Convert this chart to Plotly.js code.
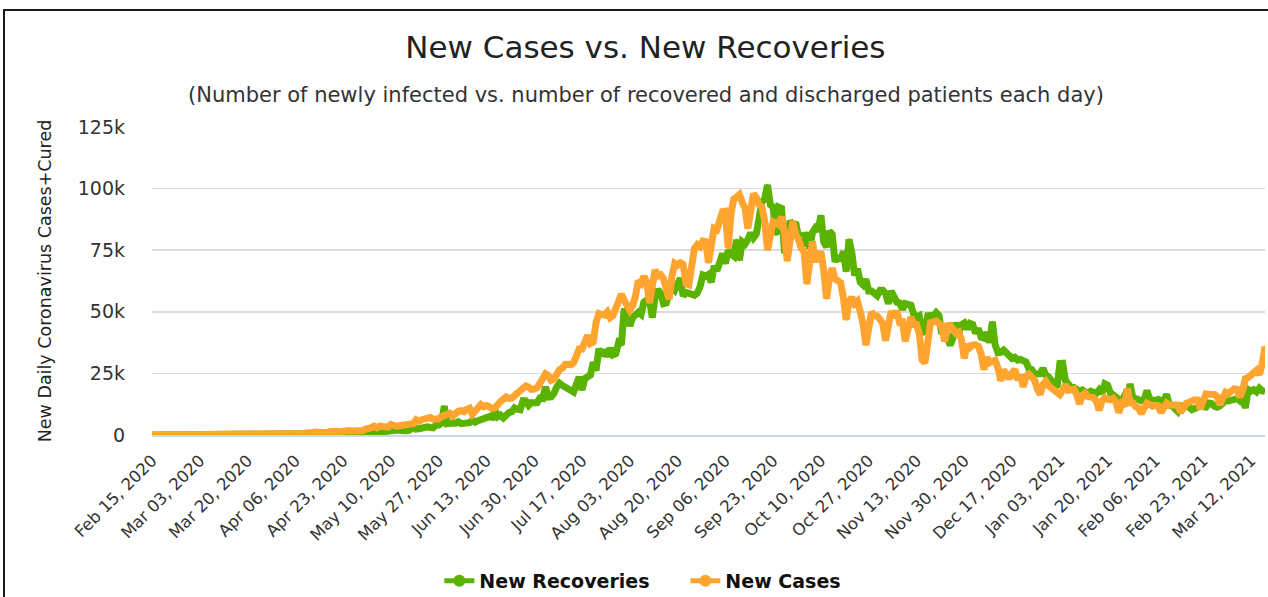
<!DOCTYPE html>
<html><head><meta charset="utf-8">
<script src="https://cdn.plot.ly/plotly-3.0.1.min.js"></script>
<style>
html,body{margin:0;padding:0;background:#fff;width:1268px;height:597px;overflow:hidden}
#chart{position:absolute;left:0;top:0;width:1268px;height:597px}
#frame{position:absolute;left:3px;top:9px;width:1290px;height:620px;border-left:2px solid #1a1a1a;border-top:2px solid #1a1a1a;pointer-events:none}
</style></head>
<body><div id="chart"></div><div id="frame"></div>
<script>
// Daily values, first day = Feb 15, 2020 ; last day = Mar 17, 2021
const startDate = '2020-02-15';
const endDate = '2021-03-17';

const casesFeb20 = [0,0,0,0,0,0,0,0,0,0,0,0,0,0,0];
const casesMar20 = [0,2,1,22,2,1,3,5,9,15,8,11,8,10,3,15,18,19,26,50,84,69,102,64,121,75,149,160,106,227,146];
const casesApr20 = [601,545,703,525,505,704,508,485,591,896,768,918,1248,1034,835,1108,922,1371,1580,1239,1537,1292,1667,1408,1835,1607,1568,1902,1705,1801];
const casesMay20 = [2396,2564,2952,3656,2971,3602,3344,3339,3175,4311,3592,3562,3726,3991,3808,4794,5049,4630,6147,5553,6198,6568,6629,7111,6414,6382,6566,7468,7964,8336,8782];
const casesJun20 = [7723,8821,9633,9889,9471,10438,10864,8442,9987,10956,12375,11458,11929,11502,10667,10974,12881,13586,14516,15413,14821,14933,15968,16922,17296,18552,19906,19459,18522,18653];
const casesJul20 = [19148,20903,22771,24850,24248,22252,22752,24879,26506,27114,28637,28701,28498,29429,32695,34956,34884,38902,40425,37148,37724,45720,49310,48916,48661,49931,47704,48513,52123,55079,57118];
const casesAug20 = [54735,52972,50629,52509,56282,62538,61537,64399,62064,53601,60963,66999,64553,65002,63490,57981,55079,64531,69652,68898,69878,69239,61408,60975,67151,75760,77266,76472,78761,78512,69921];
const casesSep20 = [78357,83883,83341,86432,90632,90802,75809,89706,95735,96551,97570,94372,92071,83809,90123,97894,96424,93337,92605,86961,75083,83347,86508,86052,85362,88600,82170,70589,80472,86821];
const casesOct20 = [81484,79476,75829,74442,61267,72049,78524,70496,73272,74383,66732,55342,63509,67708,63371,62212,61871,55722,46790,54044,55839,53370,54366,50129,45148,36470,43893,49881,48648,48268,46963];
const casesNov20 = [45231,38310,46253,50210,47638,50357,45674,45903,38073,44281,47905,44879,44878,41100,30548,29163,38617,45576,45882,46232,45209,44059,37975,44376,44489,43082,41322,41810,38772,31118];
const casesDec20 = [36604,35551,36595,36652,36011,32981,26567,31521,29398,30006,30254,27071,22065,26382,24010,22890,25152,26624,22273,24337,19556,23950,24712,23067,22272,18732,16432,20550,21821,20035,19078];
const casesJan21 = [18177,16504,16375,18088,20346,18139,18222,18645,16311,12584,15968,16946,15590,15158,15144,13788,10064,13823,15223,14545,14256,14849,13203,9102,12689,11666,18855,13083,13052,11427,11039];
const casesFeb21 = [8635,11039,12899,12408,11713,12059,11831,9110,11067,12923,12143,12194,11649,12194,9121,11610,12881,13193,13993,14264,14199,10584,13742,16738,16577,16752,16488,15510];
const casesMar21 = [12286,14989,17407,16838,18327,18711,18599,15388,17921,22854,23285,24882,25320,26291,24492,28903,35871];

const recFeb20 = [0,0,0,0,0,0,0,0,0,0,0,0,0,0,0];
const recMar20 = [0,0,0,0,0,0,0,0,0,0,0,4,0,6,0,1,1,1,0,3,1,2,1,6,3,4,3,17,17,20,24];
const recApr20 = [22,20,32,54,29,57,69,90,112,120,112,201,140,229,183,260,228,393,380,357,384,424,479,568,588,639,700,720,731,802];
const recMay20 = [1073,1111,1062,1297,1113,1166,1273,1455,1518,1671,1523,1907,1966,1530,1759,1749,2233,3956,2434,2542,2897,3113,3280,3065,2935,3935,4000,4800,11700,4614,5055];
const recJun20 = [4835,4776,5355,4614,4747,5220,5011,5991,5220,5823,6166,6922,7263,7419,7135,10215,7390,8049,6922,8200,9120,9440,10994,10495,10244,13940,13832,12010,13157,13099];
const recJul20 = [13100,15000,14800,19500,15400,15500,16900,19500,21000,20100,19500,18900,18000,17400,20600,23500,18300,22900,23600,24300,29500,26200,35000,32100,34600,31900,35300,32500,33000,37400,36600];
const recAug20 = [51200,48900,44300,47600,48800,49800,48900,53900,54800,55000,47700,56100,59000,57400,53300,53600,57600,60100,58800,62300,63600,56400,57900,57500,57400,56700,57600,60200,64900,64400,65100];
const recSep20 = [62000,68600,66700,70100,73600,69600,74900,73500,72600,79200,70900,78400,77500,79300,82000,80000,81500,88000,94600,95900,101500,93400,92500,81200,92500,92000,75000,74900,87000,84900];
const recOct20 = [86400,80500,80800,76700,82200,75600,82300,84000,82800,89100,78300,76300,82800,81500,70300,72600,70800,74500,66400,79400,73900,64800,67500,62000,60900,63200,58400,58400,57400,56500,58700];
const recNov20 = [58700,57400,53300,58400,55300,53900,53600,51000,53300,52700,52700,49100,47800,48400,42200,41200,48400,48500,48300,49700,48500,41100,42300,39800,36400,39400,45600,41500,44700,45400];
const recDec20 = [43000,45300,44900,41300,43200,39600,39300,41600,37500,46000,36600,33400,33500,34400,33200,32000,31100,31500,30400,30700,30000,29600,26900,26600,24700,25000,24900,27000,24300,23600,22100];
const recJan21 = [20700,19300,29000,29100,22100,20300,19300,19300,18400,17800,18300,17800,16900,17800,17400,16900,18300,16900,20800,20200,17100,16200,14800,14000,13600,15900,14300,20700,15000,14800,14000];
const recFeb21 = [13900,14300,18000,14500,14000,13900,14500,14000,13500,16500,12000,11800,10900,9500,11800,11800,11300,11300,10300,11000,11700,11800,11400,11300,13000,12800,11700,11300];
const recMar21 = [11800,13100,14000,13800,14200,14300,14800,13900,15600,11000,18500,17800,18400,17500,19000,17900,17700];

const newCases = [].concat(casesFeb20,casesMar20,casesApr20,casesMay20,casesJun20,casesJul20,casesAug20,casesSep20,casesOct20,casesNov20,casesDec20,casesJan21,casesFeb21,casesMar21);
const newRecoveries = [].concat(recFeb20,recMar20,recApr20,recMay20,recJun20,recJul20,recAug20,recSep20,recOct20,recNov20,recDec20,recJan21,recFeb21,recMar21);

const seriesNames = ['New Recoveries','New Cases'];
const seriesColors = ['#59b300','#ffa42f'];
const DAY = 86400000;

const font = "'DejaVu Sans', Verdana, sans-serif";

const traces = [
  {type:'scatter', mode:'lines+markers', name:seriesNames[0], x0:startDate, dx:DAY, y:newRecoveries,
   line:{color:seriesColors[0], width:7}, marker:{size:2, color:seriesColors[0]}},
  {type:'scatter', mode:'lines+markers', name:seriesNames[1], x0:startDate, dx:DAY, y:newCases,
   line:{color:seriesColors[1], width:7}, marker:{size:2, color:seriesColors[1]}}
];

const layout = {
  width:1268, height:597,
  margin:{l:152, r:3, t:127, b:162},
  paper_bgcolor:'#fff', plot_bgcolor:'#fff',
  font:{family:font, color:'#333'},
  showlegend:true,
  title:{text:'New Cases vs. New Recoveries', font:{family:font, size:31, color:'#222'},
         xref:'container', x:0.509, xanchor:'center', yref:'container', y:0.921, yanchor:'middle'},
  annotations:[{text:'(Number of newly infected vs. number of recovered and discharged patients each day)',
    xref:'paper', yref:'paper', x:0.444, y:1.104, xanchor:'center', yanchor:'middle', showarrow:false,
    font:{family:font, size:21, color:'#333'}}],
  xaxis:{type:'date', range:[startDate, endDate], tick0:startDate, dtick:17*DAY,
    tickformat:'%b %d, %Y', tickangle:-45, tickfont:{family:font, size:16.5, color:'#333'},
    showgrid:false, showline:true, linecolor:'#ccd6eb', linewidth:1.5, ticks:'', zeroline:false,
    ticklabelstandoff:8, fixedrange:true},
  yaxis:{range:[0,125000], dtick:25000, tickformat:'~s', tickfont:{family:font, size:19, color:'#333'},
    showgrid:true, gridcolor:'#dcdcdc', gridwidth:1.5, zeroline:false, ticks:'', ticklabelstandoff:26,
    title:{text:'New Daily Coronavirus Cases+Cured', font:{family:font, size:17.5, color:'#222'}, standoff:21},
    automargin:false, fixedrange:true},
  legend:{orientation:'h', xref:'container', yref:'container', x:0.3465, xanchor:'left', y:0.027, yanchor:'middle',
    font:{family:"'DejaVu Sans', Verdana, sans-serif", size:19, color:'#111', weight:'bold'},
    itemsizing:'constant', entrywidth:201, bgcolor:'rgba(0,0,0,0)'}
};

Plotly.newPlot('chart', traces, layout, {displayModeBar:false, staticPlot:true});
</script></body></html>
